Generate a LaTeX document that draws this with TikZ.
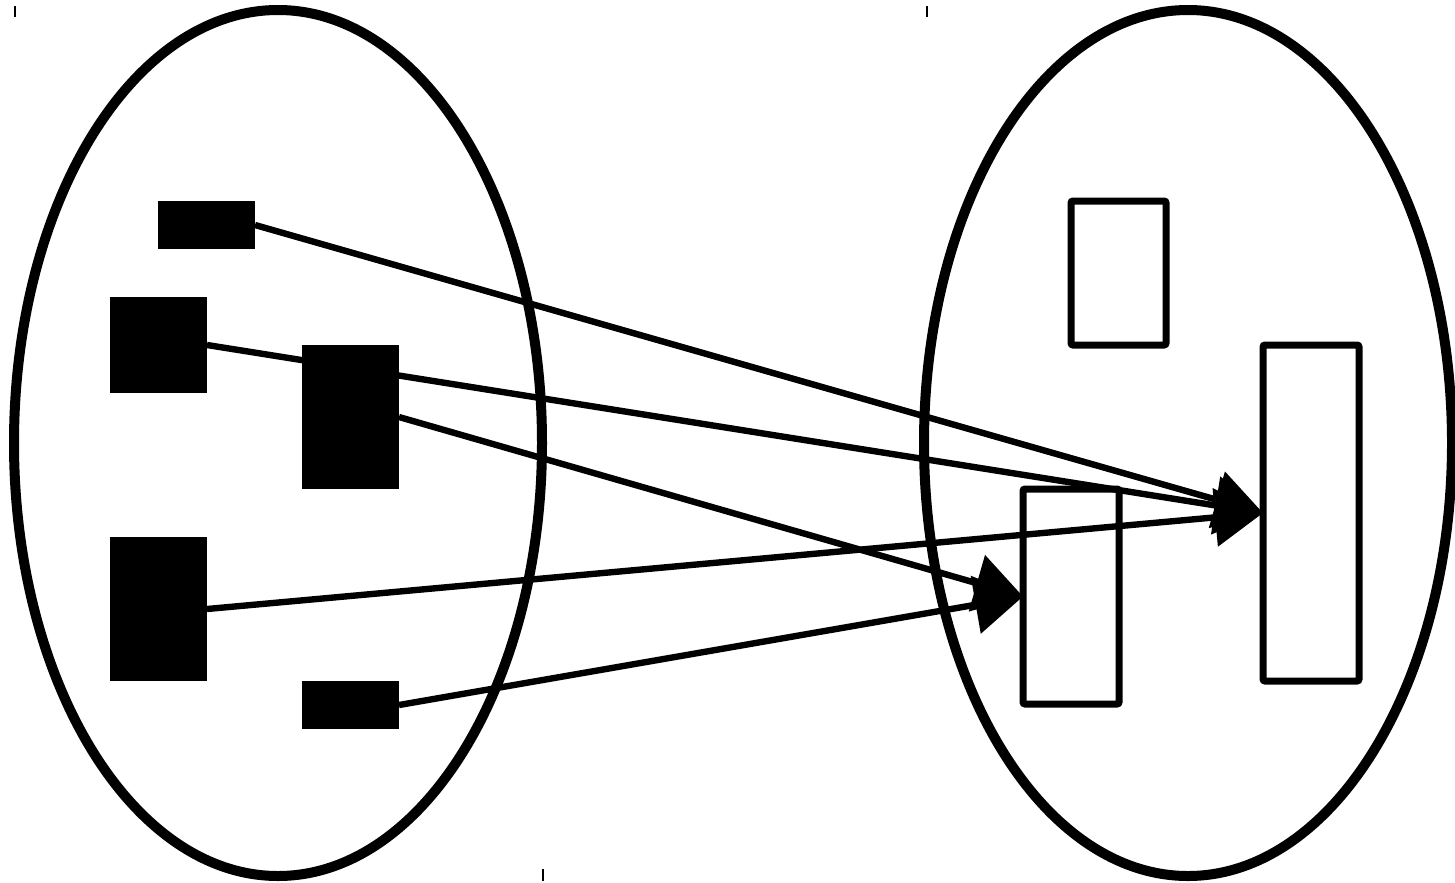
\documentclass[tikz,border=0pt]{standalone}
\usetikzlibrary{arrows.meta}
\begin{document}
\begin{tikzpicture}[x=0.75pt,y=-0.75pt,
  blk/.style={fill=black,draw=none,inner sep=0pt,outer sep=0pt,minimum width=72.75pt},
  opn/.style={draw=black,line width=5.25pt,rounded corners=1.5pt,inner sep=0pt,outer sep=0pt},
  arr/.style={line width=4.8pt,-{Triangle[length=36pt,width=43pt]}},
  ell/.style={line width=7.5pt},
  tick/.style={line width=1pt}]
\useasboundingbox (0,0) rectangle (1455,882);
% ellipses
\draw[ell] (278,443) ellipse [x radius=264, y radius=433];
\draw[ell] (1188,443) ellipse [x radius=264, y radius=433];
% small ticks
\coordinate (t1a) at (15,6); \coordinate (t1b) at (15,17);
\coordinate (t2a) at (927,6); \coordinate (t2b) at (927,17);
\coordinate (t3a) at (543,869); \coordinate (t3b) at (543,881);
\draw[tick] (t1a) -- (t1b);
\draw[tick] (t2a) -- (t2b);
\draw[tick] (t3a) -- (t3b);
% target boxes
\node[opn,minimum width=71.25pt,minimum height=108pt] (A) at (1118.5,273) {};
\node[opn,minimum width=72pt,minimum height=252pt] (B) at (1311,513) {};
\node[opn,minimum width=72pt,minimum height=161.25pt] (C) at (1071,596.5) {};
% source boxes
\node[blk,minimum height=36pt] (r1) at (206.5,225) {};
\node[blk,minimum height=72pt] (r2) at (158.5,345) {};
\node[blk,minimum height=108pt] (r4) at (158.5,609) {};
\node[blk,minimum height=36pt] (r5) at (350.5,705) {};
% arrows
\draw[arr] (r1.east) -- (B.west);
\draw[arr] (r2.east) -- (B.west);
\draw[arr] (r4.east) -- (B.west);
\draw[arr] (r5.east) -- (C.west);
\node[blk,minimum height=108pt] (r3) at (350.5,417) {};
\draw[arr] (r3.east) -- (C.west);
\end{tikzpicture}
\end{document}
